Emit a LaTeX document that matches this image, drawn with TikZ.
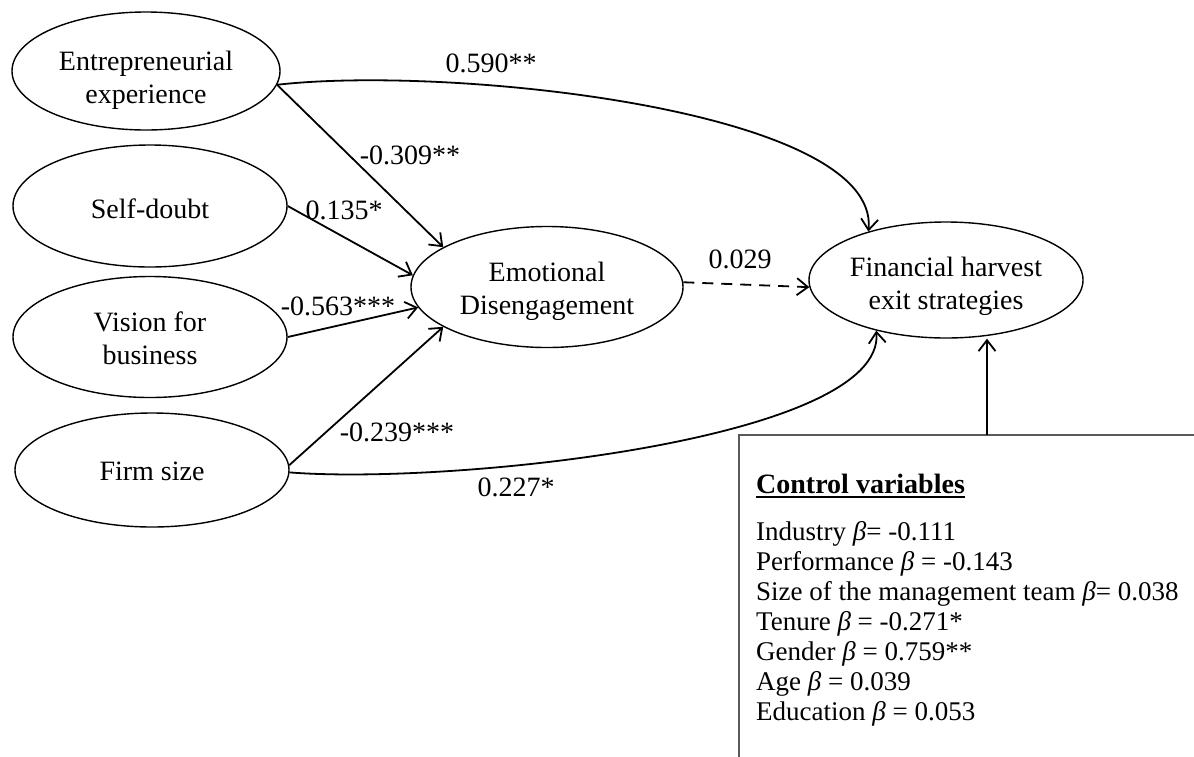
\documentclass[tikz,border=0pt]{standalone}
\usepackage{fontspec}
\setmainfont{Liberation Serif}
\usetikzlibrary{arrows.meta,shapes.geometric}
\begin{document}
\begin{tikzpicture}[x=1pt,y=-1pt,
  var/.style={ellipse,draw,line width=1.4pt,inner sep=0pt},
  vtxt/.style={align=center,font=\fontsize{28}{33}\selectfont,inner sep=0pt},
  arr/.style={line width=1.8pt,-{Straight Barb[length=11pt,width=17pt,line width=1.8pt]}},
  lab/.style={font=\fontsize{28}{30}\selectfont,inner sep=0pt},
  cvtext/.style={font=\fontsize{27}{30}\selectfont,anchor=base west,inner sep=0pt},
  cvbox/.style={draw=black!65,line width=2.5pt}]
\useasboundingbox (0,0) rectangle (1194,756);
\clip (0,0) rectangle (1194,756);

% variables
\node[var,minimum width=268pt,minimum height=118pt,
  label={[vtxt,yshift=-9pt]center:{Entrepreneurial\\experience}}] (ent) at (146,71) {};
\node[var,minimum width=274pt,minimum height=122pt,
  label={[vtxt,yshift=-3pt]center:{Self-doubt}}] (sd) at (150,206) {};
\node[var,minimum width=274pt,minimum height=121pt,
  label={[vtxt,yshift=-1pt]center:{Vision for\\business}}] (vis) at (150,337) {};
\node[var,minimum width=274pt,minimum height=114pt,
  label={[vtxt,yshift=-1pt]center:{Firm size}}] (firm) at (152,470) {};
\node[var,minimum width=272pt,minimum height=121pt,
  label={[vtxt,yshift=-4pt]center:{Emotional\\Disengagement}}] (emo) at (547,287) {};
\node[var,minimum width=274pt,minimum height=116pt,
  label={[vtxt,yshift=-6pt]center:{Financial harvest\\exit strategies}}] (fin) at (946,280) {};

% connectors
\draw[arr] (ent.-6) .. controls (450,65) and (880,110) .. (fin.148);
\draw[arr] (ent.-6) -- (emo.159);
\draw[arr] (sd.east) -- (emo.175);
\draw[arr] (vis.east) -- (emo.189);
\draw[arr] (firm.2) -- (emo.201);
\draw[arr] (firm.-1) .. controls (450,485) and (885,440) .. (fin.216);
\draw[arr,dash pattern=on 11pt off 8pt] (emo.2) -- (fin.183);

% labels
\node[lab] (l590) at (491,63) {0.590**};
\node[lab] (l309) at (410,155) {-0.309**};
\node[lab] (l135) at (344,210) {0.135*};
\node[lab] (l563) at (338,306) {-0.563***};
\node[lab] (l239) at (397,432) {-0.239***};
\node[lab] (l227) at (516,487) {0.227*};
\node[lab] (l029) at (740,259) {0.029};

% control variables box
\draw[cvbox] (739,435) rectangle (1260,820);
\coordinate (cvtop) at (987,435);
\draw[arr] (cvtop) -- (cvtop |- fin.south);

\node[cvtext,font=\fontsize{28}{30}\selectfont\bfseries] (cvtitle) at (756,493) {Control variables};
\draw[line width=1.6pt] ([yshift=-4pt]cvtitle.base west) -- ([yshift=-4pt]cvtitle.base east);
\foreach \t [count=\i] in {%
  {Industry \textit{β}= -0.111},
  {Performance \textit{β} = -0.143},
  {Size of the management team \textit{β}= 0.038},
  {Tenure \textit{β} = -0.271*},
  {Gender \textit{β} = 0.759**},
  {Age \textit{β} = 0.039},
  {Education \textit{β} = 0.053}}
  \node[cvtext] (cv\i) at (756,510+30*\i) {\t};
\end{tikzpicture}
\end{document}
